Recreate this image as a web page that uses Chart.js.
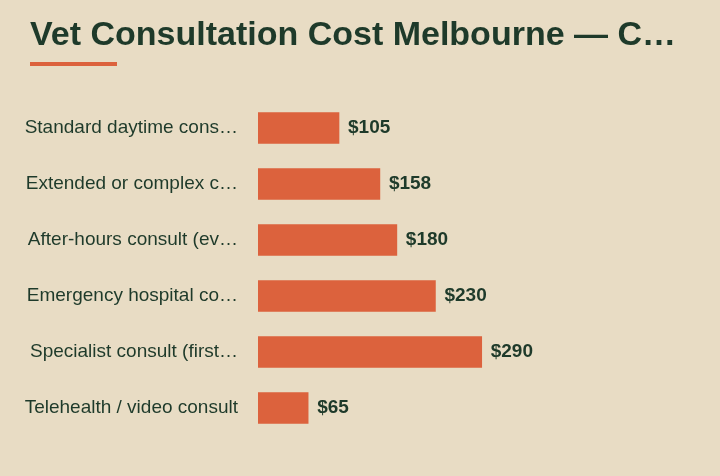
<!DOCTYPE html>
<html lang="en">
<head>
<meta charset="UTF-8">
<title>Vet Consultation Cost Melbourne</title>
<script src="https://cdn.jsdelivr.net/npm/chart.js"></script>
<style>
  html, body { margin: 0; padding: 0; background: #e8dcc4; }
  #wrap { position: relative; width: 720px; height: 476px; overflow: hidden; }
  h1 {
    position: absolute; left: 30px; top: 14px; margin: 0; width: 658px;
    font: bold 34px "Liberation Sans", Arial, sans-serif; color: #1e3a2a;
    white-space: nowrap; overflow: hidden; text-overflow: ellipsis;
  }
  .rule { position: absolute; left: 30px; top: 62px; width: 87px; height: 4px; background: #dc623d; }
  canvas { position: absolute; left: 0; top: 0; }
</style>
</head>
<body>
<div id="wrap">
  <canvas id="chart" width="720" height="476"></canvas>
  <h1>Vet Consultation Cost Melbourne — Consultation Types</h1>
  <div class="rule"></div>
</div>
<script>
const categories = [
  'Standard daytime consultation',
  'Extended or complex consultation',
  'After-hours consult (evenings/weekends)',
  'Emergency hospital consult',
  'Specialist consult (first visit)',
  'Telehealth / video consult'
];
const costs = [105, 158, 180, 230, 290, 65];

const labelFont = '19px "Liberation Sans", Arial, sans-serif';
const ink = '#1e3a2a';

// shorten a label to fit the axis width, with an ellipsis
const measure = document.createElement('canvas').getContext('2d');
function fit(text, maxW) {
  measure.font = labelFont;
  if (measure.measureText(text).width <= maxW) return text;
  let s = text;
  while (s.length && measure.measureText(s + '…').width > maxW) s = s.slice(0, -1);
  return s.trimEnd() + '…';
}

const valueLabels = {
  id: 'valueLabels',
  afterDatasetsDraw(chart) {
    const ctx = chart.ctx;
    const meta = chart.getDatasetMeta(0);
    ctx.save();
    ctx.font = 'bold 19px "Liberation Sans", Arial, sans-serif';
    ctx.fillStyle = ink;
    ctx.textBaseline = 'middle';
    meta.data.forEach((bar, i) => {
      ctx.fillText('$' + costs[i], bar.x + 9, bar.y);
    });
    ctx.restore();
  }
};

new Chart(document.getElementById('chart'), {
  type: 'bar',
  data: {
    labels: categories,
    datasets: [{
      data: costs,
      backgroundColor: '#dc623d',
      barThickness: 31
    }]
  },
  options: {
    indexAxis: 'y',
    responsive: false,
    animation: false,
    layout: { padding: { top: 100, bottom: 40, right: 30, left: 0 } },
    plugins: { legend: { display: false }, tooltip: { enabled: false } },
    scales: {
      x: { display: false, min: 0, max: 560 },
      y: {
        grid: { display: false },
        border: { display: false },
        afterFit(scale) { scale.width = 258; },
        ticks: {
          padding: 12,
          color: ink,
          font: { family: '"Liberation Sans", Arial, sans-serif', size: 19 },
          callback(value) { return fit(categories[value], 218); }
        }
      }
    }
  },
  plugins: [valueLabels]
});
</script>
</body>
</html>
